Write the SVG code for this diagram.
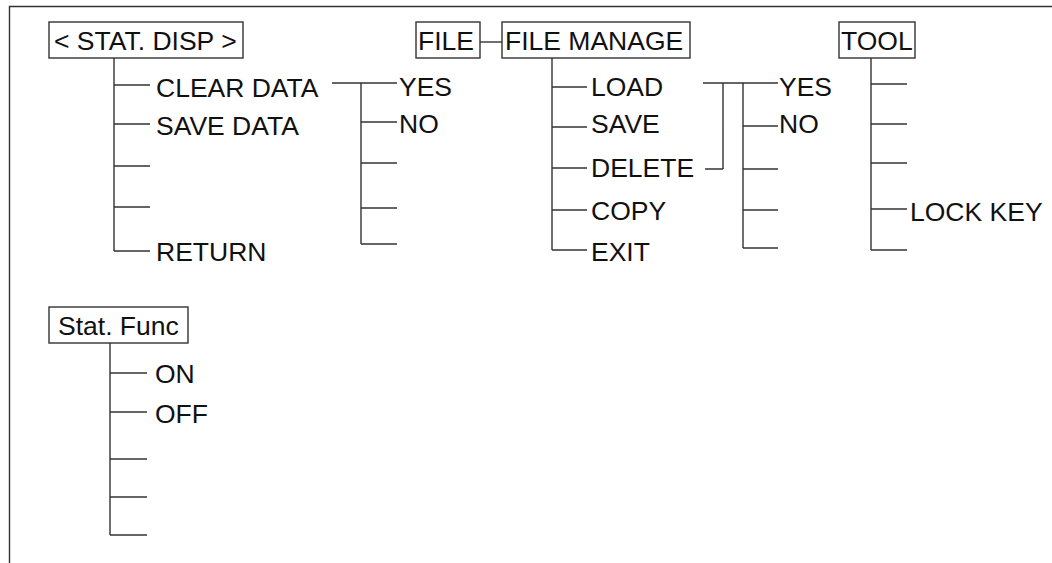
<svg xmlns="http://www.w3.org/2000/svg" width="1052" height="563" viewBox="0 0 1052 563">
<style>
.ln{stroke:#333;stroke-width:1.4;fill:none}
.bx{stroke:#333;stroke-width:1.4;fill:#fff}
text{font-family:"Liberation Sans",Arial,sans-serif;font-size:26.5px;fill:#111}
</style>
<rect width="1052" height="563" fill="#fff"/>
<g id="frame">
<path class="ln" d="M9.5 563V6.5H1052"/>
</g>
<g id="connectors">
<path class="ln" d="M114 58V251M114 85H150M114 124H150M114 166H150M114 207H150M114 251H150"/>
<path class="ln" d="M332 83H397M361 83V244M361 122H397M361 163H397M361 208H397M361 244H397"/>
<path class="ln" d="M480 42H502"/>
<path class="ln" d="M552 58V250M552 87H587M552 127H587M552 168H587M552 210H587M552 250H587"/>
<path class="ln" d="M703 83H778M723 83V169M705 169H723M743 83V248M743 126H778M743 169H778M743 210H778M743 248H778"/>
<path class="ln" d="M871 58V250M871 84H907M871 124H907M871 163H907M871 209H907M871 250H907"/>
<path class="ln" d="M110 343V535M110 373H147M110 412H147M110 459H147M110 497H147M110 535H147"/>
</g>
<g id="stat-disp">
<rect class="bx" x="49" y="22" width="194" height="36"/>
<text x="54" y="50">&lt; STAT. DISP &gt;</text>
</g>
<g id="stat-disp-items">
<text x="156" y="97">CLEAR DATA</text>
<text x="156" y="135">SAVE DATA</text>
<text x="156" y="261">RETURN</text>
</g>
<g id="clear-yes-no">
<text x="399" y="96">YES</text>
<text x="399" y="133">NO</text>
</g>
<g id="file">
<rect class="bx" x="416" y="22" width="64" height="36"/>
<text x="418" y="50">FILE</text>
</g>
<g id="file-manage">
<rect class="bx" x="502" y="22" width="188" height="36"/>
<text x="505" y="50">FILE MANAGE</text>
</g>
<g id="file-manage-items">
<text x="591" y="96">LOAD</text>
<text x="591" y="133">SAVE</text>
<text x="591" y="177">DELETE</text>
<text x="591" y="220">COPY</text>
<text x="591" y="261">EXIT</text>
</g>
<g id="file-yes-no">
<text x="779" y="96">YES</text>
<text x="779" y="133">NO</text>
</g>
<g id="tool">
<rect class="bx" x="839" y="22" width="76" height="36"/>
<text x="841" y="50">TOOL</text>
</g>
<g id="tool-items">
<text x="910" y="221">LOCK KEY</text>
</g>
<g id="stat-func">
<rect class="bx" x="49" y="307" width="139" height="36"/>
<text x="58" y="335">Stat. Func</text>
</g>
<g id="stat-func-items">
<text x="155" y="383">ON</text>
<text x="155" y="423">OFF</text>
</g>
</svg>
